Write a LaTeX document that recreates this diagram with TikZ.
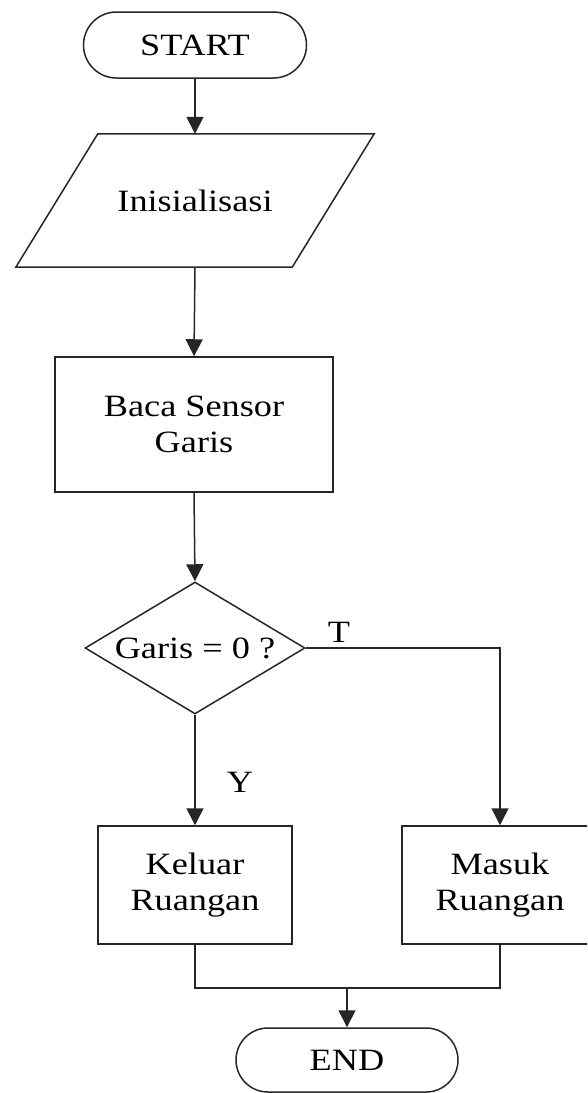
\documentclass[tikz,border=0pt]{standalone}
\usepackage{fontspec}
\setmainfont{Liberation Serif}[FakeStretch=1.17]
\usetikzlibrary{arrows.meta,shapes.geometric}
\begin{document}
\begin{tikzpicture}[x=1pt,y=-1pt,
  txt/.style={font=\fontsize{31}{36}\selectfont},
  base/.style={txt, draw=black!85, line width=1.5pt, align=center, inner sep=0pt},
  term/.style={base, rectangle, rounded corners=#1, minimum width=223pt, minimum height=2*#1},
  io/.style={txt, align=center, inner sep=0pt, minimum width=276pt, minimum height=133pt},
  proc/.style={base, rectangle},
  decision/.style={base, diamond, minimum width=220pt, minimum height=132pt},
  line/.style={draw=black!85, line width=1.5pt},
  flow/.style={line, -{Triangle[width=17pt,length=17pt]}}
]
\useasboundingbox (0,0) rectangle (587,1093);
\clip (0,0) rectangle (587,1093);

\node[term=33pt] (start) at (195,45) {START};
\node[io] (init) at (195,200.5) {Inisialisasi};
\draw[line, line join=miter] ([xshift=41pt]init.north west) -- ([xshift=41pt]init.north east)
  -- ([xshift=-41pt]init.south east) -- ([xshift=-41pt]init.south west) -- cycle;
\node[proc, minimum width=278pt, minimum height=135pt] (read) at (194,424.5) {Baca Sensor\\Garis};
\node[decision, label={center:{\fontsize{31}{36}\selectfont Garis = 0 ?}}] (dec) at (195,648) {};
\node[proc, minimum width=194pt, minimum height=118pt] (out) at (195,885) {Keluar\\Ruangan};
\node[proc, minimum width=196pt, minimum height=118pt] (in) at (500,885) {Masuk\\Ruangan};
\node[term=32pt, minimum width=222pt] (end) at (347,1060) {END};
\coordinate (j) at (347,988);

\draw[flow] (start.south) -- (init.north);
\draw[flow] (init.south) -- (read.north);
\draw[flow] (read.south) -- (dec.north);
\draw[flow] (dec.south) -- (out.north);
\draw[flow] (dec.east) -| (in.north);
\draw[line] (out.south) |- (j) -| (in.south);
\draw[flow] (j) -- (end.north);

\node[txt] (ylab) at (240,782) {Y};
\node[txt] (tlab) at (339,632) {T};
\end{tikzpicture}
\end{document}
